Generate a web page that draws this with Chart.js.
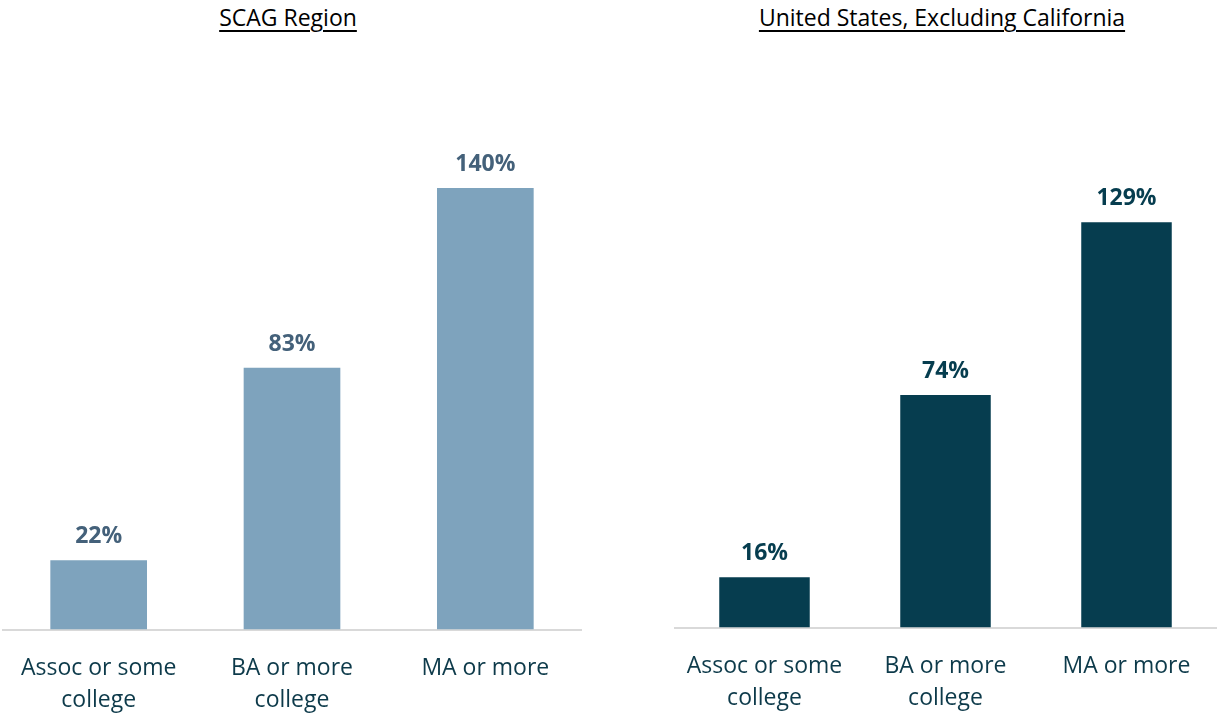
<!DOCTYPE html>
<html>
<head>
<meta charset="utf-8">
<script src="https://cdn.jsdelivr.net/npm/chart.js@4"></script>
<style>
  body { margin: 0; background: #fff; width: 1217px; height: 713px; position: relative; overflow: hidden; font-family: "Open Sans", sans-serif; }
  .title { position: absolute; top: 1px; font-size: 23px; color: #000; text-decoration: underline; text-decoration-thickness: 1.5px; text-underline-offset: 4px; text-align: center; }
  .box { position: absolute; top: 0; }
</style>
</head>
<body>
<div class="title" style="left:2px;width:572px;">SCAG Region</div>
<div class="title" style="left:674px;width:536px;">United States, Excluding California</div>
<div class="box" style="left:2px;width:580px;height:719px;"><canvas id="scagChart"></canvas></div>
<div class="box" style="left:674px;width:543px;height:717px;"><canvas id="usChart"></canvas></div>
<script>
const categories = [["Assoc or some", "college"], ["BA or more", "college"], ["MA or more"]];
const scagValues = [22, 83, 140];
const usValues = [16, 74, 129];

const valueLabels = {
    id: "valueLabels",
    afterDatasetsDraw(chart, args, opts) {
        const ctx = chart.ctx;
        const meta = chart.getDatasetMeta(0);
        ctx.save();
        ctx.font = "bold 23px 'Open Sans', sans-serif";
        ctx.fillStyle = opts.color;
        ctx.textAlign = "center";
        ctx.textBaseline = "bottom";
        meta.data.forEach((bar, i) => {
            ctx.fillText(chart.data.datasets[0].data[i] + "%", bar.x, bar.y - 12);
        });
        ctx.restore();
    },
};

function makeChart(nodeId, values, barColor, labelColor) {
    return new Chart(document.getElementById(nodeId), {
        type: "bar",
        data: {
            labels: categories,
            datasets: [{ data: values, backgroundColor: barColor, categoryPercentage: 1, barPercentage: 0.5 }],
        },
        plugins: [valueLabels],
        options: {
            responsive: true,
            maintainAspectRatio: false,
            animation: false,
            layout: { padding: { top: 125, bottom: 0 } },
            plugins: {
                legend: { display: false },
                tooltip: { enabled: false },
                valueLabels: { color: labelColor },
            },
            scales: {
                x: {
                    grid: { display: false, drawTicks: true, tickLength: 20 },
                    border: { color: "#d9d9d9", width: 2 },
                    ticks: { color: "#0d3a4a", padding: 3, maxRotation: 0, font: { family: "'Open Sans', sans-serif", size: 23, lineHeight: 1.38 } },
                },
                y: { display: false, min: 0, max: 160 },
            },
        },
    });
}

makeChart("scagChart", scagValues, "#7ea3bd", "#44617a");
makeChart("usChart", usValues, "#063d4f", "#063d4f");
</script>
</body>
</html>
